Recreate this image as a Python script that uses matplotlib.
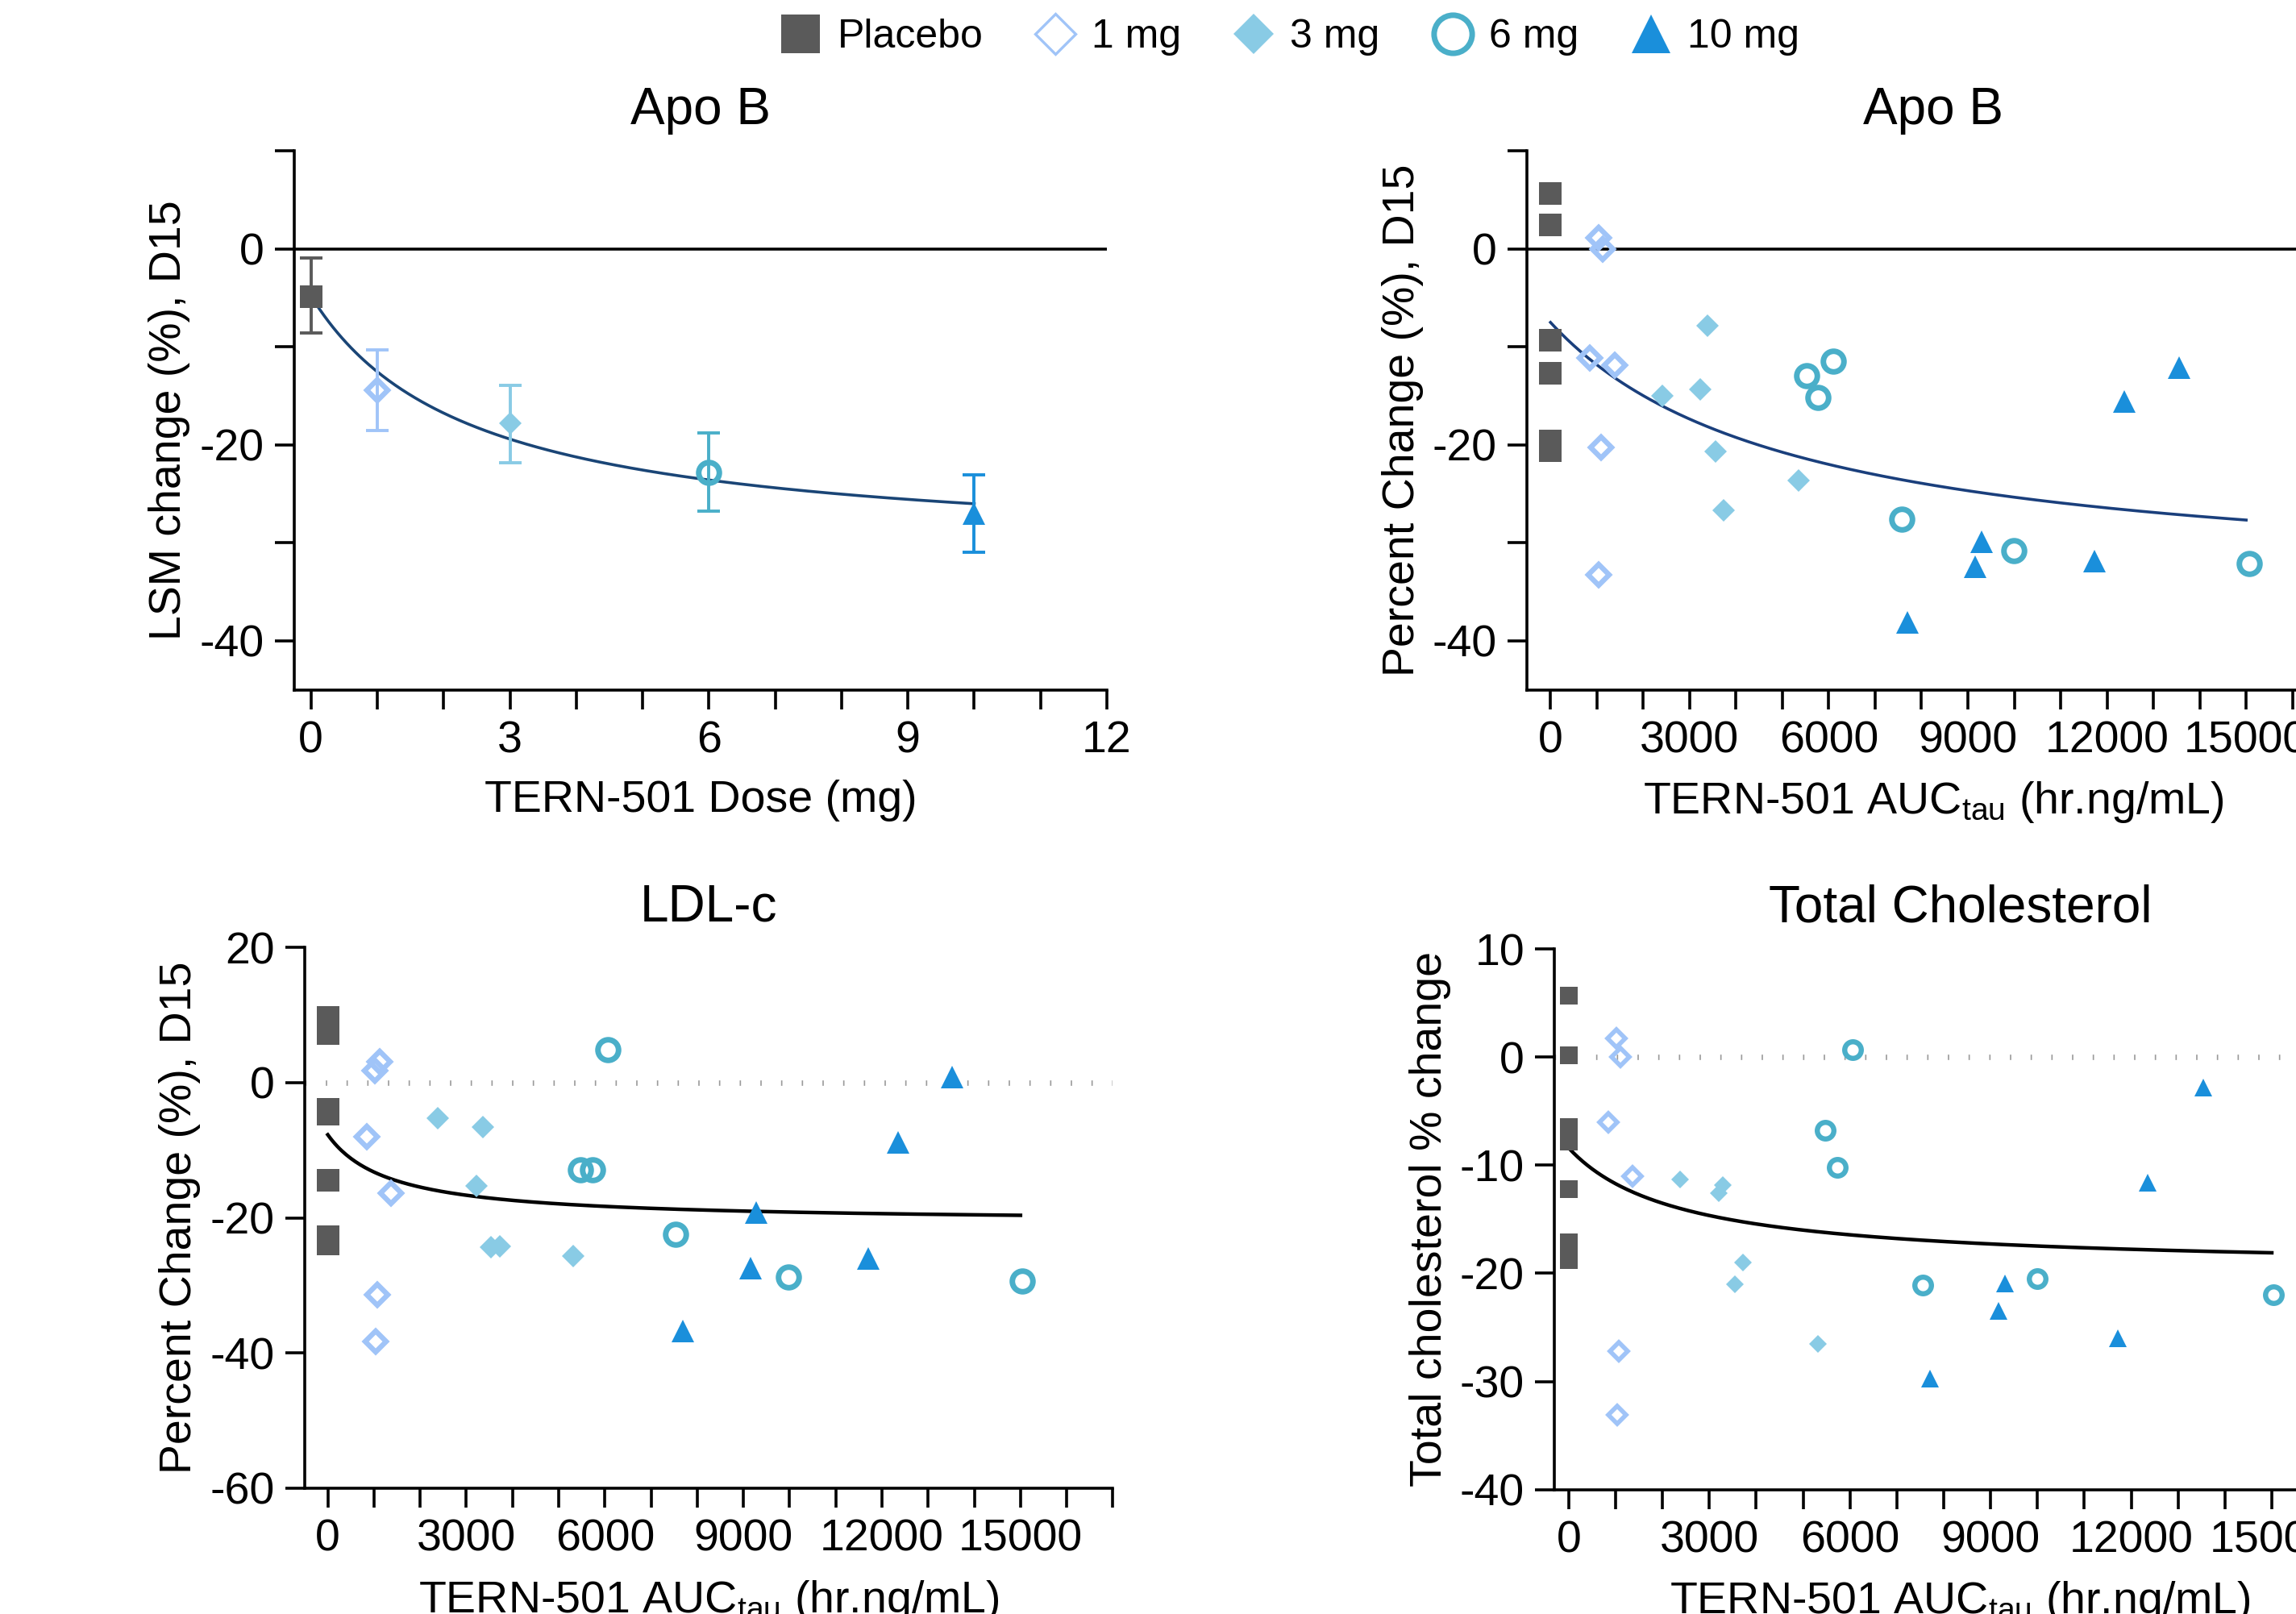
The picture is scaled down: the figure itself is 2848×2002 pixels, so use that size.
import numpy as np
import matplotlib
matplotlib.use('Agg')
from matplotlib import pyplot as plt
from matplotlib.lines import Line2D
from matplotlib.ticker import MultipleLocator

plt.rcParams['font.family'] = ['Liberation Sans', 'DejaVu Sans']
plt.rcParams['mathtext.fontset'] = 'custom'
plt.rcParams['mathtext.rm'] = 'Liberation Sans'
plt.rcParams['mathtext.it'] = 'Liberation Sans:italic'
plt.rcParams['axes.unicode_minus'] = False

## Grupos e cores ##
groups = ['Placebo', '1 mg', '3 mg', '6 mg', '10 mg']
colors = ['#5a5a5a', '#a0c4f8', '#89cbe5', '#4aafc9', '#1a8fdb']

## Apo B, LSM por dose (media e limites da barra de erro) ##
dose = [0, 1, 3, 6, 10]
lsm = [-4.9, -14.4, -17.8, -22.8, -27.0]
lsm_lo = [-8.6, -18.5, -21.8, -26.8, -31.0]
lsm_hi = [-0.95, -10.3, -13.9, -18.8, -23.1]

## Apo B individual vs AUC ##
apob_pbo = [5.65, 2.45, -9.3, -12.7, -19.6, -20.6]
apob_auc_1 = [1031, 1130, 856, 1380, 1083, 1042]
apob_1 = [1.1, 0.0, -11.1, -11.9, -20.3, -33.3]
apob_auc_3 = [3378, 3232, 2405, 3564, 5347, 3733]
apob_3 = [-7.8, -14.3, -15.0, -20.7, -23.6, -26.7]
apob_auc_6 = [5515, 6098, 5766, 7571, 9988, 15061]
apob_6 = [-12.9, -11.5, -15.2, -27.6, -30.8, -32.1]
apob_auc_10 = [7700, 9290, 9157, 11727, 12370, 13547]
apob_10 = [-38.1, -29.9, -32.4, -31.9, -15.6, -12.1]

## LDL-c individual vs AUC ##
ldl_pbo = [9.7, 7.3, -3.95, -4.65, -14.4, -22.8, -23.9]
ldl_auc_1 = [1119, 1014, 846, 1374, 1072, 1032]
ldl_1 = [3.1, 1.8, -8.05, -16.4, -31.4, -38.3]
ldl_auc_3 = [2383, 3357, 3212, 3536, 3722, 5316]
ldl_3 = [-5.25, -6.6, -15.3, -24.3, -24.2, -25.6]
ldl_auc_6 = [6070, 5478, 5739, 7536, 9975, 15036]
ldl_6 = [4.9, -12.9, -12.9, -22.4, -28.7, -29.4]
ldl_auc_10 = [7693, 9284, 9151, 11705, 12349, 13527]
ldl_10 = [-36.8, -19.2, -27.5, -26.0, -8.8, 0.8]

## Colesterol total individual vs AUC ##
tc_pbo = [5.7, 0.2, -6.5, -7.8, -12.2, -17.1, -18.75]
tc_auc_1 = [1025, 1110, 853, 1368, 1070, 1030]
tc_1 = [1.7, 0.0, -6.0, -11.0, -27.2, -33.1]
tc_auc_3 = [2375, 3286, 3200, 3721, 3538, 5318]
tc_3 = [-11.3, -11.8, -12.6, -19.0, -21.0, -26.5]
tc_auc_6 = [5472, 5736, 6062, 7550, 9987, 15042]
tc_6 = [-6.8, -10.2, 0.7, -21.1, -20.5, -22.0]
tc_auc_10 = [7709, 9300, 9163, 11710, 12351, 13530]
tc_10 = [-29.7, -20.9, -23.5, -26.0, -11.6, -2.8]

## Curvas Emax ajustadas (E0, Emax, EC50, x maximo) ##
fit_dose = (-4.8, -26.3, 2.4, 10)
fit_apob = (-7.5, -27.3, 5300, 15000)
fit_ldl = (-7.7, -13.0, 1355, 15000)
fit_tc = (-8.4, -11.25, 2400, 15000)

marks = ['s', 'D', 'D', 'o', '^']
filled = [True, False, True, False, True]


def estilo(ax):
    for s in ['top', 'right']:
        ax.spines[s].set_visible(False)
    for s in ['left', 'bottom']:
        ax.spines[s].set_linewidth(1.3)
    ax.tick_params(which='both', direction='out', length=8.5, width=1.3,
                   labelsize=20, pad=5)


def marcador(ax, x, y, i, big=True):
    if big:
        ms = [10, 6.8, 6.9, 9.2, 10][i]
        mew = [0, 2.3, 0, 2.5, 0][i]
    else:
        ms = [7.6, 5.6, 5.4, 7.4, 7.6][i]
        mew = [0, 2.0, 0, 2.3, 0][i]
    ax.plot(x, y, linestyle='none', marker=marks[i], ms=ms,
            mfc=colors[i] if filled[i] else 'none', mec=colors[i],
            mew=mew, zorder=3, clip_on=False)


def curva(ax, p, cor, lw):
    e0, emax, ec50, xmax = p
    xx = np.linspace(0, xmax, 300)
    ax.plot(xx, e0 + emax * xx / (ec50 + xx), color=cor, lw=lw, zorder=2)


def painel_auc(ax, pbo, pares, fit, cor_fit, big):
    marcador(ax, [0] * len(pbo), pbo, 0, big)
    for i, (x, y) in enumerate(pares):
        marcador(ax, x, y, i + 1, big)
    curva(ax, fit, cor_fit, 1.3 if cor_fit != 'black' else 1.6)
    ax.set_xticks([0, 3000, 6000, 9000, 12000, 15000])
    ax.xaxis.set_minor_locator(MultipleLocator(1000))
    ax.set_xlabel(r'TERN-501 AUC$_{\mathrm{tau}}$ (hr.ng/mL)', fontsize=20,
                  labelpad=8)
    estilo(ax)


fig = plt.figure(figsize=(14.24, 10.01), dpi=200)
ax1 = fig.add_axes([0.1282, 0.5726, 0.3539, 0.3339])
ax2 = fig.add_axes([0.6652, 0.5726, 0.3535, 0.3339])
ax3 = fig.add_axes([0.1327, 0.0780, 0.3520, 0.3349])
ax4 = fig.add_axes([0.6771, 0.0771, 0.3532, 0.3349])

## Painel 1: LSM vs dose ##
ax1.axhline(0, color='black', lw=1.3, zorder=1)
curva(ax1, fit_dose, '#1a4576', 1.3)
for i in range(len(dose)):
    ax1.errorbar(dose[i], lsm[i],
                 yerr=[[lsm[i] - lsm_lo[i]], [lsm_hi[i] - lsm[i]]],
                 fmt='none', ecolor=colors[i], elinewidth=1.4, capsize=5,
                 capthick=1.4, zorder=2)
    marcador(ax1, dose[i], lsm[i], i)
ax1.set_xlim(-0.25, 12)
ax1.set_ylim(-45, 10)
ax1.set_xticks([0, 3, 6, 9, 12])
ax1.xaxis.set_minor_locator(MultipleLocator(1))
ax1.set_yticks([-40, -20, 0])
ax1.yaxis.set_minor_locator(MultipleLocator(10))
ax1.set_xlabel('TERN-501 Dose (mg)', fontsize=20, labelpad=8)
ax1.set_ylabel('LSM change (%), D15', fontsize=20, labelpad=4)
ax1.set_title('Apo B', fontsize=23, pad=12)
estilo(ax1)

## Painel 2: Apo B vs AUC ##
ax2.axhline(0, color='black', lw=1.3, zorder=1)
painel_auc(ax2, apob_pbo,
           [(apob_auc_1, apob_1), (apob_auc_3, apob_3),
            (apob_auc_6, apob_6), (apob_auc_10, apob_10)],
           fit_apob, '#1a3f7c', True)
ax2.set_xlim(-500, 17000)
ax2.set_ylim(-45, 10)
ax2.set_yticks([-40, -20, 0])
ax2.yaxis.set_minor_locator(MultipleLocator(10))
ax2.set_ylabel('Percent Change (%), D15', fontsize=20, labelpad=4)
ax2.set_title('Apo B', fontsize=23, pad=12)

## Painel 3: LDL-c vs AUC ##
ax3.axhline(0, color='#9a9a9a', lw=2.4, linestyle=(0, (0.25, 3.6)),
            dash_capstyle='butt', zorder=1)
painel_auc(ax3, ldl_pbo,
           [(ldl_auc_1, ldl_1), (ldl_auc_3, ldl_3),
            (ldl_auc_6, ldl_6), (ldl_auc_10, ldl_10)],
           fit_ldl, 'black', True)
ax3.set_xlim(-500, 17000)
ax3.set_ylim(-60, 20)
ax3.set_yticks([-60, -40, -20, 0, 20])
ax3.set_ylabel('Percent Change (%), D15', fontsize=20, labelpad=4)
ax3.set_title('LDL-c', fontsize=23, pad=12)

## Painel 4: colesterol total vs AUC ##
ax4.axhline(0, color='#9a9a9a', lw=2.4, linestyle=(0, (0.25, 3.6)),
            dash_capstyle='butt', zorder=1)
painel_auc(ax4, tc_pbo,
           [(tc_auc_1, tc_1), (tc_auc_3, tc_3),
            (tc_auc_6, tc_6), (tc_auc_10, tc_10)],
           fit_tc, 'black', False)
ax4.set_xlim(-300, 17000)
ax4.set_ylim(-40, 10)
ax4.set_yticks([-40, -30, -20, -10, 0, 10])
ax4.set_ylabel('Total cholesterol % change', fontsize=20, labelpad=4)
ax4.set_title('Total Cholesterol', fontsize=23, pad=12)

## Legenda ##
handles = []
for i in range(len(groups)):
    handles.append(Line2D([], [], linestyle='none', marker=marks[i],
                          ms=[17, 12.5, 12.5, 17, 17][i],
                          mfc=colors[i] if filled[i] else 'white',
                          mec=colors[i], mew=[0, 1.2, 0, 2.5, 0][i]))
fig.legend(handles, groups, loc='center', bbox_to_anchor=(0.561, 0.977),
           ncol=5, frameon=False, fontsize=18, handlelength=1.2,
           handletextpad=0.3, columnspacing=1.2, borderaxespad=0)

plt.savefig('out.png', dpi=200)
